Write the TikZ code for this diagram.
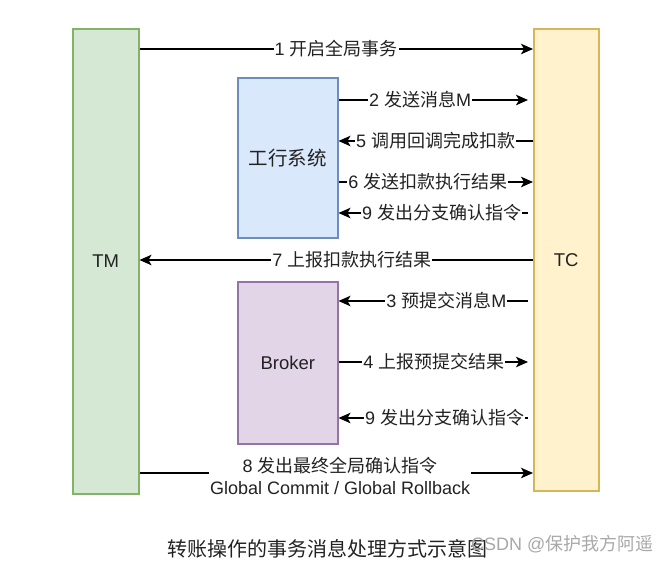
\documentclass[tikz,border=0pt]{standalone}
\usepackage{fontspec}
\setmainfont{Liberation Sans}
\newfontfamily\cjk{Noto Sans CJK SC}
\usetikzlibrary{arrows.meta}
\definecolor{tmfill}{HTML}{D5E8D4}
\definecolor{tmline}{HTML}{82B366}
\definecolor{tcfill}{HTML}{FFF2CC}
\definecolor{tcline}{HTML}{D6B656}
\definecolor{icfill}{HTML}{DAE8FC}
\definecolor{icline}{HTML}{6C8EBF}
\definecolor{brfill}{HTML}{E1D5E7}
\definecolor{brline}{HTML}{9673A6}
\definecolor{txt}{HTML}{222222}
\definecolor{wm}{HTML}{A8A8A8}
\tikzset{
  lane/.style={draw, line width=1.5pt, anchor=north west, inner sep=0pt, text=txt,
    font=\fontsize{18.5}{22}\selectfont},
  arr/.style={line width=1.5pt, -{Stealth[length=12pt,width=10.5pt,inset=3pt]}},
  gapend/.style={shorten >=5pt},
  gapstart/.style={shorten <=5pt},
  lbl/.style={fill=white, inner sep=1pt, text=txt, font=\fontsize{18}{22}\selectfont}
}
\begin{document}
\begin{tikzpicture}[x=1pt,y=-1pt]
\useasboundingbox (0,0) rectangle (669,563);
\node[lane, fill=tmfill, draw=tmline, minimum width=66pt, minimum height=465pt] (tm) at (72,28) {TM};
\node[lane, fill=tcfill, draw=tcline, minimum width=65pt, minimum height=462pt] (tc) at (533,28) {TC};
\node[lane, fill=icfill, draw=icline, minimum width=100pt, minimum height=160pt, font=\fontsize{19.5}{22}\selectfont] (ic) at (237,77) {\cjk 工行系统};
\node[lane, fill=brfill, draw=brline, minimum width=100pt, minimum height=162pt] (br) at (237,281) {Broker};

\draw[arr] (tm.east |- 0,49) -- node[lbl, pos=0.5]{1 {\cjk 开启全局事务}} (tc.west |- 0,49);
\draw[arr, gapend] (ic.east |- 0,100) -- node[lbl, pos=0.42]{2 {\cjk 发送消息}M} (tc.west |- 0,100);
\draw[arr] (tc.west |- 0,141) -- node[lbl, pos=0.5]{5 {\cjk 调用回调完成扣款}} (ic.east |- 0,141);
\draw[arr] (ic.east |- 0,182) -- node[lbl, pos=0.46]{6 {\cjk 发送扣款执行结果}} (tc.west |- 0,182);
\draw[arr, gapstart] (tc.west |- 0,213) -- node[lbl, pos=0.47]{9 {\cjk 发出分支确认指令}} (ic.east |- 0,213);
\draw[arr] (tc.west |- 0,260) -- node[lbl, pos=0.46]{7 {\cjk 上报扣款执行结果}} (tm.east |- 0,260);
\draw[arr, gapstart] (tc.west |- 0,301) -- node[lbl, pos=0.445]{3 {\cjk 预提交消息}M} (br.east |- 0,301);
\draw[arr, gapend] (br.east |- 0,362) -- node[lbl, pos=0.49]{4 {\cjk 上报预提交结果}} (tc.west |- 0,362);
\draw[arr, gapstart] (tc.west |- 0,418) -- node[lbl, pos=0.455]{9 {\cjk 发出分支确认指令}} (br.east |- 0,418);
\draw[arr] (tm.east |- 0,473) -- node[lbl, pos=0.51, yshift=-3pt, align=center, font=\fontsize{18}{22}\selectfont]{8 {\cjk 发出最终全局确认指令}\\Global Commit / Global Rollback} (tc.west |- 0,473);

\node[text=txt, font=\fontsize{20}{22}\selectfont\cjk] (cap) at (327,549) {转账操作的事务消息处理方式示意图};
\node[text=wm, font=\fontsize{18}{20}\selectfont, anchor=east] (wmk) at (657,544) {CSDN @{\cjk 保护我方阿遥}};
\end{tikzpicture}
\end{document}
